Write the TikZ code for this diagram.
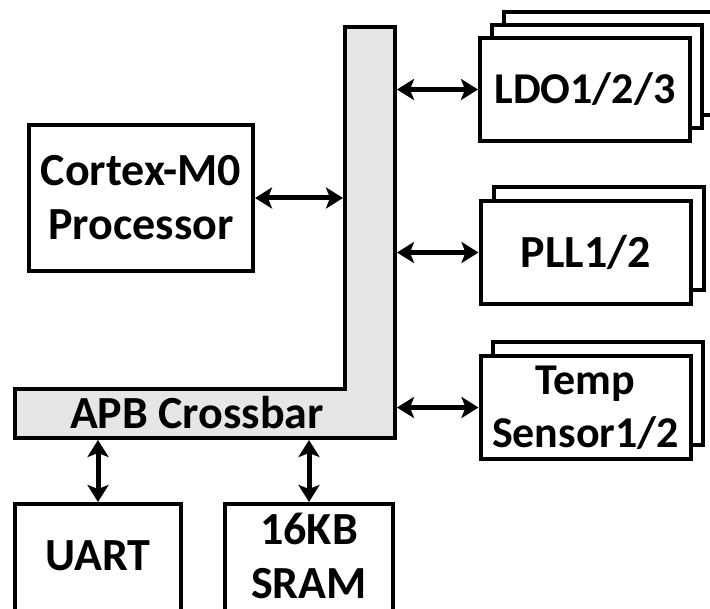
\documentclass[tikz,border=0pt]{standalone}
\usepackage{fontspec}
\setmainfont{Carlito}
\usetikzlibrary{arrows.meta}
\definecolor{xbgray}{RGB}{230,230,230}
\begin{document}
\begin{tikzpicture}[x=1pt, y=-1pt, line width=4pt,
		font=\bfseries\fontsize{46}{54}\selectfont,
		blk/.style={draw, fill=white, inner sep=0pt, align=center, minimum width=210, minimum height=103},
		bus/.style={{Stealth[length=17pt,width=21pt,inset=4pt]}-{Stealth[length=17pt,width=21pt,inset=4pt]}, line width=5pt}]
		\useasboundingbox (0,0) rectangle (710,609);
		\clip (0,0) rectangle (710,609);
		
		% crossbar
		\draw[fill=xbgray] (345,27) -- (395,27) -- (395,438) -- (15,438) -- (15,389) -- (345,389) -- cycle;
		\node (apb) at (197,413) {APB Crossbar};
		\coordinate (xbL) at (343,0);
		\coordinate (xbR) at (397,0);
		\coordinate (xbB) at (0,440);
		
		\node[blk, minimum width=224, minimum height=146] (cpu) at (141,198) {Cortex-M0\\Processor};
		
		\node[blk] (ldoC) at (609,63.5) {};
		\node[blk] (ldoB) at (597,76.5) {};
		\node[blk, font=\bfseries\fontsize{44}{53}\selectfont] (ldo) at (585,89.5) {LDO1/2/3};
		
		\node[blk] (pllB) at (598.5,238.5) {};
		\node[blk] (pll) at (585.5,252.5) {PLL1/2};
		
		\node[blk] (tempB) at (597.5,393.5) {};
		\node[blk, font=\bfseries\fontsize{44}{53}\selectfont] (temp) at (585.5,407.5) {Temp\\Sensor1/2};
		
		\node[blk, minimum width=166, minimum height=110, text depth=6pt] (uart) at (98,559) {UART};
		\node[blk, minimum width=168, minimum height=110, text depth=6pt] (sram) at (309,559) {16KB\\SRAM};
		
		\draw[bus] (cpu.east) -- (cpu.east -| xbL);
		\draw[bus] (ldo.west -| xbR) -- (ldo.west);
		\draw[bus] (pll.west -| xbR) -- (pll.west);
		\draw[bus] (temp.west -| xbR) -- (temp.west);
		\draw[bus] (uart.north |- xbB) -- (uart.north);
		\draw[bus] (sram.north |- xbB) -- (sram.north);
	\end{tikzpicture}
\end{document}
